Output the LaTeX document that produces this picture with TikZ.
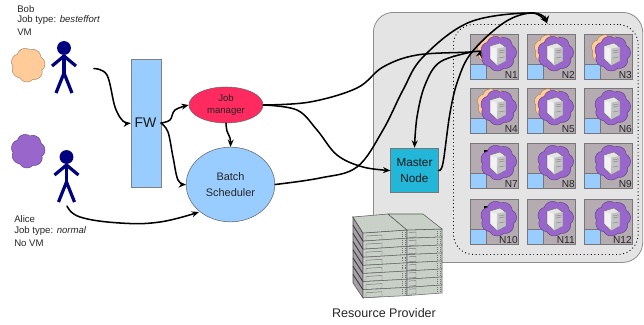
\documentclass[tikz,border=0pt]{standalone}
\usepackage{fontspec}
\setmainfont{Liberation Sans}
\usetikzlibrary{arrows.meta,shapes.geometric}
\definecolor{panelgrey}{HTML}{E4E4E4}
\definecolor{nodegrey}{HTML}{B5ACB2}
\definecolor{edgegrey}{HTML}{77777A}
\definecolor{skyb}{HTML}{99CCFF}
\definecolor{vmpurple}{HTML}{9966CC}
\definecolor{vmorange}{HTML}{FFCC99}
\definecolor{jobred}{HTML}{FF2A5F}
\definecolor{mastercy}{HTML}{22B6D8}
\definecolor{rackgreen}{HTML}{C8D0C8}
\definecolor{rackside}{HTML}{A8A0A8}
\definecolor{navy}{HTML}{000080}
\newcommand{\blob}[5]{% cx cy rx ry fill
  \draw[draw=#5!65!black,line width=.35pt,fill=#5] plot[smooth cycle,tension=.75,domain=0:355,samples=72]
    ({#1+#3*(0.86+0.14*abs(cos(3.5*\x+20))^0.6)*cos(\x)},{#2+#4*(0.86+0.14*abs(cos(3.5*\x+20))^0.6)*sin(\x)});}
\newcommand{\serverbox}[2]{% centre of tower
  \begin{scope}[shift={(#1,#2)}]
   \fill[black!10,draw=black!60,line width=.3pt] (-8,-8) -- (2,-11) -- (7.5,-7) -- (7.5,7) -- (-1,11.5) -- (-8,5) -- cycle;
   \fill[black!24] (-.5,-5.5) -- (7.5,-7) -- (7.5,7) -- (-1,11.5) -- cycle;
   \fill[black!5] (-7,-7) -- (-1.5,-5.3) -- (-1.5,9) -- (-7,4.5) -- cycle;
   \draw[black!50,line width=.3pt] (1,-3) -- (6.5,-4) (1,-1) -- (6.5,-2) (1,4) -- (6.5,3);
  \end{scope}}
\tikzset{
  x=.75pt,y=-.75pt,
  conn/.style={line width=1.15pt,line cap=round,-{Stealth[length=5.5pt,width=4.5pt]},black},
  txt/.style={inner sep=0pt,anchor=west,text=black!85,font=\fontsize{7.2}{9}\selectfont},
  cnode/.style={draw=edgegrey,line width=.6pt,fill=nodegrey,minimum width=36pt,minimum height=33.5pt,inner sep=0pt,anchor=north west},
  cblue/.style={draw=edgegrey,line width=.6pt,fill=skyb},
  clabel/.style={inner sep=0pt,anchor=south east,font=\fontsize{7.6}{8}\selectfont,text=black!85},
  person/.pic={
    \fill[navy] (0,0) circle[radius=5.2pt];
    \draw[navy,line width=2.4pt,line join=round] (-12,18) -- (0,8) -- (12,18);
    \draw[navy,line width=2.4pt,line join=round] (0,7) -- (0,25);
    \draw[navy,line width=2.4pt,line join=miter] (-8,45) -- (0,25) -- (8,45);
  }
}
\begin{document}
\begin{tikzpicture}
\useasboundingbox (0,0) rectangle (644,325);
% resource panel
\node[draw=black!45,line width=.6pt,fill=panelgrey,rounded corners=15pt,inner sep=0pt,anchor=north west,minimum width=202pt,minimum height=187.5pt] (panel) at (373,12) {};
\node[draw=black,dotted,line width=.7pt,rounded corners=15pt,inner sep=0pt,anchor=north west,minimum width=138.5pt,minimum height=172.5pt] (cluster) at (453,24) {};
% cluster nodes
\foreach \n/\cx/\cy/\hasorange in {1/470/34/1,2/527/34/1,3/584/34/1,4/470/88/1,5/527/88/1,6/584/88/0,7/470/143/0,8/527/143/0,9/584/143/0,10/470/199/0,11/527/199/0,12/584/199/0}{
  \node[cnode] (N\n) at (\cx,\cy) {};
  \fill[cblue] (\cx,\cy+30) rectangle (\cx+16,\cy+45);
  \ifnum\n=7 \fill[black] (\cx+14,\cy+7) rectangle (\cx+19,\cy+14);\fi
  \ifnum\n=10 \fill[black] (\cx+14,\cy+7) rectangle (\cx+19,\cy+14); \fill[black] (\cx+14,\cy+25) rectangle (\cx+17,\cy+29);\fi
  \ifnum\hasorange=1 \blob{\cx+23.5}{\cy+16}{16.5}{15.5}{vmorange}\fi
  \blob{\cx+28.5}{\cy+19.5}{18}{17.5}{vmpurple}
  \serverbox{\cx+28}{\cy+20}
  \node[clabel] at (N\n.south east) [xshift=-.6pt,yshift=.6pt] {N\n};
}
% server stack
\fill[rackside,draw=black!70,line width=.4pt] (353,217) -- (363,233) -- (363,298) -- (353,283) -- cycle;
\foreach \i in {0,...,7}{
  \draw[black!75,line width=.7pt] (353,{217+\i*8.2}) -- (363,{233+\i*8.1});
  \draw[black!60,line width=.4pt,fill=rackgreen] (363,{233+\i*8.1}) -- (407,{230+\i*8.2}) -- (407,{238.2+\i*8.2}) -- (363,{241.1+\i*8.1}) -- cycle;
  \draw[black!55,line width=.35pt] (366,{236+\i*8.1}) -- (382,{235+\i*8.1}) -- (382,{240+\i*8.1}) -- (366,{241+\i*8.1}) -- cycle;
  \draw[black!55,line width=.35pt,densely dotted] (402,{232+\i*8.2}) -- (402,{237+\i*8.2}) (405,{232+\i*8.2}) -- (405,{237+\i*8.2});
  \draw[black!60,line width=.4pt,fill=rackgreen] (407,{230+\i*8.2}) -- (442,{229+\i*8}) -- (442,{237+\i*8}) -- (407,{238.2+\i*8.2}) -- cycle;
  \draw[black!55,line width=.35pt] (409,{232.5+\i*8.1}) -- (416,{232+\i*8.1}) -- (416,{237+\i*8.1}) -- (409,{237.5+\i*8.1});
  \draw[black!55,line width=.35pt,densely dotted] (437,{231+\i*8}) -- (437,{236+\i*8}) (440,{231+\i*8}) -- (440,{236+\i*8});
}
\draw[black!65,line width=.4pt,fill=rackgreen] (353,217) -- (388,214) -- (407,230) -- (363,233) -- cycle;
\draw[black!65,line width=.4pt,fill=rackgreen] (388,214) -- (423,214) -- (442,229) -- (407,230) -- cycle;
\node[inner sep=0pt,font=\fontsize{9.4}{11}\selectfont,text=black!85] (rp) at (384,313.5) {Resource Provider};
% people
\pic at (64,48) {person};
\pic at (66.5,157) {person};
\coordinate (bobp) at (94,68.5);
\coordinate (alicep) at (67,206);
\blob{28}{65}{17}{17}{vmorange}
\blob{28}{151}{17}{17}{vmpurple}
\node[txt] (bobt) at (17,9) {Bob};
\node[txt] (bobj) at (17,20) {Job type: \textit{besteffort}};
\node[txt] (bobv) at (17,32) {VM};
\node[txt] (alt) at (14,219) {Alice};
\node[txt] (alj) at (14,231) {Job type: \textit{normal}};
\node[txt] (alv) at (14,243) {No VM};
% main blocks
\node[draw=black!50,line width=.7pt,fill=skyb,minimum width=22.5pt,minimum height=96pt,inner sep=0pt,anchor=north west] (fw) at (130.5,59) {};
\node[inner sep=0pt,font=\fontsize{10.5}{12}\selectfont,text=black!90] (fwt) at (145.5,123) {FW};
\node[ellipse,draw=black!60,line width=.4pt,fill=jobred,minimum width=55.5pt,minimum height=27pt,inner sep=0pt,align=center,font=\fontsize{7.2}{9}\selectfont,text=black!85] (jm) at (226,105) {Job\\manager};
\node[ellipse,draw=black!60,line width=.4pt,fill=skyb,minimum width=66.5pt,minimum height=56pt,inner sep=0pt,align=center,font=\fontsize{8.2}{12.6}\selectfont,text=black!85] (bs) at (230.5,184.5) {Batch\\Scheduler};
\node[draw=edgegrey,line width=.7pt,fill=mastercy,minimum width=35.5pt,minimum height=33.5pt,inner sep=0pt,align=center,font=\fontsize{8.8}{12}\selectfont,text=black!90] (mn) at (414.5,170.5) {Master\\Node};
% connectors
\coordinate (n1in) at (481,50);
\coordinate (n1out) at (472,52);
\coordinate (ctop) at (547,23);
\coordinate (fwe) at (161,123);
\draw[conn] plot[smooth,tension=.6] coordinates {(bobp) (107,75) (115,107) (123,121) (fw.west |- fwe)};
\draw[conn] plot[smooth,tension=.6] coordinates {(fwe) (170,120) (175,110) (jm.west)};
\draw[conn] plot[smooth,tension=.6] coordinates {(fwe) (168,132) (173,157) (178,180) (bs.west)};
\draw[conn] plot[smooth,tension=.7] coordinates {(alicep) (80,217) (120,223) (160,222) (199,212)};
\draw[conn] plot[smooth,tension=.7] coordinates {(jm.south) (227,131) (230,138) (bs.north)};
\draw[conn] plot[smooth,tension=.6] coordinates {(jm.east) (310,102) (357,88) (383,67) (417,55) (470,52) (n1in)};
\draw[conn] plot[smooth,tension=.6] coordinates {(jm.east) (297,110) (317,130) (337,155) (363,167) (mn.west)};
\draw[conn] plot[smooth,tension=.6] coordinates {(bs.east) (320,178) (357,167) (383,130) (403,90) (423,57) (470,22) (533,13) (ctop)};
\draw[conn] plot[smooth,tension=.6] coordinates {(mn.east) (443,163) (450,113) (458,80) (472,52) (505,22) (533,13) (ctop)};
\draw[conn] plot[smooth,tension=.6] coordinates {(n1out) (440,62) (425,85) (417,117) (mn.north)};
\end{tikzpicture}
\end{document}
